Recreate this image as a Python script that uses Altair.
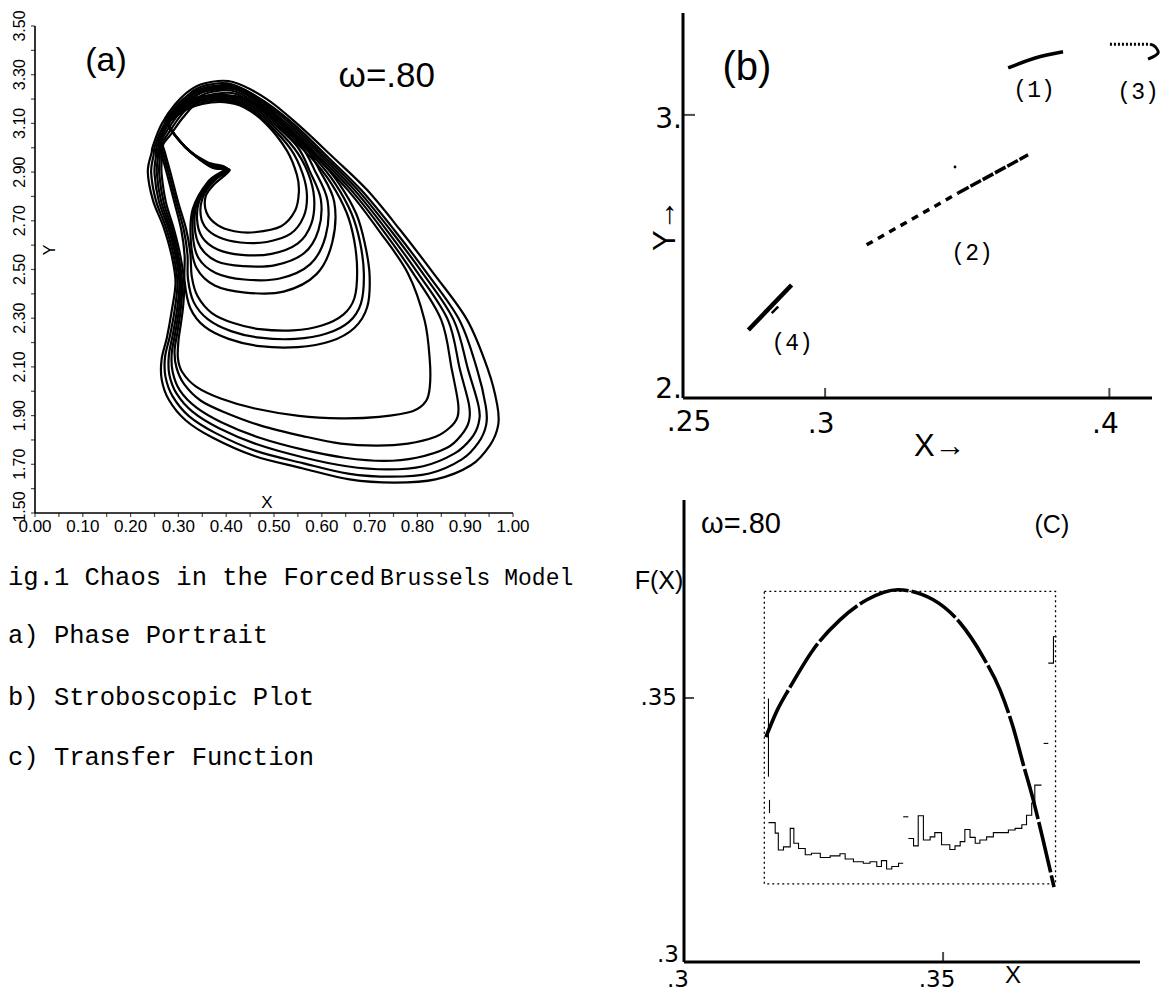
import altair as alt
import pandas as pd

# ---------------- Panel (a): phase portrait (X, Y), omega = .80 ----------------
O1_x = [0.247,0.265,0.294,0.330,0.365,0.414,0.485,0.554,0.623,0.695,0.764,0.833,0.904,0.948,0.967,0.969,0.952,0.912,0.838,0.752,0.658,0.559,0.459,0.371,0.315,0.280,0.265,0.265,0.276,0.286,0.294,0.286,0.269,0.247,0.236,0.244]
O1_y = [3.009,3.097,3.181,3.244,3.269,3.270,3.200,3.089,2.962,2.826,2.662,2.486,2.293,2.087,1.944,1.861,1.779,1.696,1.638,1.625,1.638,1.684,1.734,1.810,1.881,1.965,2.049,2.133,2.221,2.330,2.447,2.556,2.674,2.783,2.900,2.980]
O2_x = [0.251,0.269,0.297,0.332,0.367,0.413,0.480,0.546,0.614,0.683,0.752,0.820,0.888,0.925,0.943,0.944,0.928,0.893,0.825,0.745,0.655,0.560,0.462,0.378,0.322,0.288,0.273,0.272,0.282,0.292,0.298,0.290,0.274,0.253,0.243,0.248]
O2_y = [3.009,3.089,3.165,3.235,3.260,3.260,3.190,3.089,2.959,2.825,2.661,2.485,2.292,2.089,1.939,1.863,1.790,1.720,1.662,1.649,1.662,1.705,1.755,1.828,1.898,1.979,2.059,2.140,2.225,2.331,2.446,2.557,2.672,2.783,2.898,2.969]
O3_x = [0.255,0.273,0.300,0.335,0.370,0.415,0.478,0.541,0.608,0.676,0.744,0.811,0.876,0.906,0.928,0.928,0.912,0.878,0.812,0.738,0.652,0.562,0.466,0.385,0.330,0.296,0.281,0.280,0.288,0.297,0.302,0.294,0.279,0.259,0.250,0.253]
O3_y = [3.009,3.081,3.155,3.225,3.250,3.250,3.183,3.087,2.959,2.825,2.661,2.485,2.292,2.089,1.939,1.868,1.805,1.745,1.692,1.679,1.692,1.728,1.781,1.848,1.915,1.991,2.069,2.147,2.230,2.333,2.445,2.557,2.669,2.781,2.895,2.964]
O4_x = [0.259,0.277,0.303,0.338,0.372,0.417,0.476,0.536,0.602,0.669,0.736,0.801,0.864,0.889,0.908,0.908,0.893,0.862,0.798,0.730,0.648,0.563,0.470,0.392,0.338,0.303,0.288,0.286,0.293,0.301,0.305,0.297,0.283,0.264,0.255,0.257]
O4_y = [3.009,3.073,3.145,3.215,3.241,3.241,3.176,3.085,2.959,2.825,2.661,2.485,2.292,2.089,1.944,1.878,1.823,1.768,1.727,1.714,1.727,1.759,1.809,1.871,1.933,2.004,2.079,2.155,2.235,2.335,2.444,2.557,2.667,2.779,2.893,2.959]
O5_x = [0.263,0.281,0.306,0.340,0.374,0.419,0.474,0.531,0.596,0.662,0.728,0.791,0.850,0.872,0.885,0.884,0.868,0.838,0.780,0.715,0.640,0.560,0.474,0.400,0.347,0.312,0.296,0.292,0.298,0.305,0.308,0.300,0.287,0.269,0.260,0.261]
O5_y = [3.009,3.065,3.135,3.205,3.231,3.231,3.169,3.083,2.959,2.825,2.661,2.485,2.292,2.089,1.954,1.895,1.851,1.813,1.785,1.777,1.785,1.816,1.858,1.911,1.961,2.029,2.097,2.165,2.243,2.339,2.443,2.557,2.665,2.777,2.891,2.954]
O6_x = [0.267,0.285,0.310,0.343,0.377,0.421,0.471,0.526,0.590,0.655,0.719,0.780,0.815,0.826,0.826,0.818,0.790,0.720,0.640,0.552,0.460,0.390,0.337,0.308,0.299,0.300,0.305,0.310,0.312,0.304,0.291,0.274,0.265,0.265]
O6_y = [3.009,3.057,3.125,3.195,3.221,3.221,3.162,3.081,2.959,2.825,2.661,2.485,2.292,2.125,2.019,1.959,1.918,1.895,1.889,1.899,1.929,1.969,2.019,2.079,2.135,2.205,2.275,2.351,2.446,2.557,2.663,2.775,2.889,2.949]
M1_x = [0.265,0.280,0.305,0.340,0.380,0.425,0.475,0.520,0.578,0.620,0.652,0.668,0.674,0.668,0.645,0.600,0.540,0.470,0.415,0.370,0.340,0.328,0.325,0.316,0.300,0.284,0.272]
M1_y = [3.039,3.100,3.165,3.220,3.240,3.237,3.175,3.069,2.959,2.853,2.733,2.617,2.491,2.381,2.315,2.270,2.250,2.255,2.280,2.321,2.391,2.471,2.567,2.667,2.773,2.893,2.979]
M2_x = [0.262,0.277,0.302,0.338,0.378,0.423,0.477,0.525,0.584,0.628,0.662,0.680,0.688,0.682,0.657,0.610,0.545,0.470,0.410,0.362,0.332,0.320,0.319,0.311,0.296,0.280,0.268]
M2_y = [3.039,3.105,3.173,3.227,3.247,3.245,3.181,3.073,2.961,2.853,2.731,2.612,2.483,2.361,2.285,2.237,2.215,2.220,2.247,2.295,2.366,2.461,2.562,2.665,2.773,2.893,2.979]
M3_x = [0.259,0.274,0.299,0.336,0.376,0.421,0.479,0.530,0.590,0.636,0.672,0.690,0.700,0.695,0.668,0.618,0.550,0.470,0.405,0.355,0.325,0.313,0.313,0.306,0.292,0.276,0.264]
M3_y = [3.039,3.109,3.180,3.233,3.254,3.252,3.187,3.077,2.963,2.853,2.729,2.607,2.476,2.346,2.260,2.205,2.181,2.185,2.215,2.265,2.341,2.451,2.557,2.663,2.773,2.893,2.979]
I1_x = [0.290,0.315,0.350,0.396,0.438,0.484,0.527,0.548,0.552,0.544,0.515,0.459,0.417,0.382,0.359,0.357,0.375,0.407,0.371,0.330,0.296,0.278]
I1_y = [3.120,3.155,3.180,3.187,3.165,3.097,2.988,2.888,2.817,2.741,2.678,2.653,2.657,2.682,2.733,2.800,2.850,2.909,2.918,2.975,3.043,3.099]
I2_x = [0.288,0.313,0.349,0.396,0.440,0.488,0.535,0.560,0.569,0.562,0.535,0.485,0.430,0.385,0.355,0.346,0.355,0.380,0.407,0.369,0.327,0.294,0.280]
I2_y = [3.123,3.160,3.187,3.193,3.171,3.097,2.994,2.893,2.803,2.717,2.647,2.613,2.611,2.632,2.677,2.743,2.813,2.873,2.909,2.925,2.981,3.049,3.099]
I3_x = [0.286,0.311,0.347,0.396,0.442,0.492,0.542,0.571,0.584,0.578,0.550,0.495,0.432,0.382,0.350,0.339,0.346,0.375,0.405,0.367,0.325,0.292,0.278]
I3_y = [3.126,3.165,3.193,3.199,3.177,3.101,2.999,2.898,2.793,2.687,2.607,2.564,2.560,2.582,2.632,2.707,2.793,2.871,2.911,2.928,2.984,3.054,3.103]
I4_x = [0.284,0.309,0.345,0.396,0.444,0.496,0.549,0.575,0.598,0.593,0.563,0.503,0.435,0.380,0.346,0.334,0.340,0.370,0.403,0.365,0.323,0.290,0.276]
I4_y = [3.129,3.169,3.198,3.205,3.183,3.105,3.004,2.903,2.788,2.662,2.567,2.518,2.514,2.534,2.592,2.677,2.778,2.868,2.913,2.931,2.987,3.059,3.107]
I5_x = [0.282,0.307,0.343,0.396,0.446,0.500,0.556,0.585,0.612,0.608,0.576,0.512,0.438,0.378,0.342,0.330,0.335,0.366,0.401,0.363,0.321,0.288,0.274]
I5_y = [3.132,3.173,3.203,3.211,3.189,3.109,3.009,2.908,2.783,2.637,2.522,2.463,2.459,2.486,2.547,2.647,2.763,2.865,2.915,2.934,2.990,3.064,3.111]
I6_x = [0.280,0.305,0.341,0.396,0.448,0.504,0.562,0.595,0.626,0.622,0.589,0.520,0.440,0.376,0.338,0.326,0.330,0.362,0.399,0.361,0.319,0.286,0.272]
I6_y = [3.135,3.177,3.208,3.217,3.195,3.113,3.013,2.909,2.778,2.612,2.481,2.409,2.405,2.434,2.506,2.617,2.748,2.861,2.917,2.941,2.993,3.069,3.115]

xa_ticks = [0.0,0.05,0.1,0.15,0.2,0.25,0.3,0.35,0.4,0.45,0.5,0.55,0.6,0.65,0.7,0.75,0.8,0.85,0.9,0.95,1.0]
ya_ticks = [1.5,1.6,1.7,1.8,1.9,2.0,2.1,2.2,2.3,2.4,2.5,2.6,2.7,2.8,2.9,3.0,3.1,3.2,3.3,3.4,3.5]
xa_label_vals = [0.0,0.1,0.2,0.3,0.4,0.5,0.6,0.7,0.8,0.9,1.0]
xa_labels = ["0.00","0.10","0.20","0.30","0.40","0.50","0.60","0.70","0.80","0.90","1.00"]
ya_label_vals = [1.5,1.7,1.9,2.1,2.3,2.5,2.7,2.9,3.1,3.3,3.5]
ya_labels = ["1.50","1.70","1.90","2.10","2.30","2.50","2.70","2.90","3.10","3.30","3.50"]

# ---------------- Panel (b): stroboscopic plot ----------------
b1_x = [0.3644,0.3739,0.3837]
b1_y = [3.166,3.201,3.223]
b2a_x = [0.3146,0.3468]
b2a_y = [2.541,2.724]
b2b_x = [0.3468,0.3714]
b2b_y = [2.724,2.859]
b3a_x = [0.4002,0.4143]
b3a_y = [3.250,3.250]
b3b_x = [0.4143,0.4161,0.4171,0.4136]
b3b_y = [3.250,3.241,3.218,3.197]
b4_x = [0.2882,0.2730]
b4_y = [2.399,2.240]
b4b_x = [0.2835,0.2812]
b4b_y = [2.323,2.300]
b_stray_x = [0.3457]
b_stray_y = [2.816]
xb_ticks = [0.25,0.3,0.4]
xb_labels = [".25",".3",".4"]
yb_ticks = [2.0,3.0]
yb_labels = ["2.","3."]

# ---------------- Panel (c): transfer function ----------------
fx_x = [0.3158,0.3180,0.3205,0.3249,0.3301,0.3353,0.3413,0.3481,0.3533,0.3577,0.3610,0.3635,0.3654,0.3674,0.3693,0.3714]
fx_y = [0.3426,0.3477,0.3521,0.3591,0.3648,0.3686,0.3705,0.3686,0.3642,0.3578,0.3515,0.3445,0.3377,0.3307,0.3231,0.3142]
box_x = [0.3155,0.3717]
box_y = [0.3148,0.3702]
hl_x = [0.3163,0.3176,0.3182,0.3192,0.3205,0.3212,0.3221,0.3234,0.3246,0.3263,0.3282,0.3301,0.3311,0.3327,0.3346,0.3359,0.3372,0.3381,0.3391,0.3401,0.3414,0.3423]
hl_y = [0.3264,0.3244,0.3212,0.3218,0.3253,0.3225,0.3215,0.3203,0.3206,0.3198,0.3201,0.3205,0.3195,0.3190,0.3187,0.3190,0.3181,0.3192,0.3176,0.3181,0.3187,0.3187]
hr_x = [0.3433,0.3443,0.3452,0.3462,0.3475,0.3484,0.3497,0.3513,0.3523,0.3533,0.3542,0.3552,0.3562,0.3571,0.3584,0.3597,0.3610,0.3626,0.3639,0.3652,0.3661,0.3671,0.3677,0.3690]
hr_y = [0.3234,0.3220,0.3277,0.3231,0.3237,0.3245,0.3222,0.3213,0.3220,0.3228,0.3251,0.3236,0.3225,0.3231,0.3237,0.3245,0.3245,0.3250,0.3253,0.3260,0.3278,0.3301,0.3335,0.3335]
ht_x = [0.3703,0.3713,0.3719]
ht_y = [0.3566,0.3616,0.3616]
hd1_x = [0.3423,0.3433]
hd1_y = [0.3275,0.3275]
hd2_x = [0.3694,0.3703]
hd2_y = [0.3414,0.3414]
spike_x = [0.3163,0.3165]
spike_y1 = [0.3351,0.3282]
spike_y2 = [0.3499,0.3307]
xc_ticks = [0.3,0.35]
xc_labels = [".3",".35"]
yc_ticks = [0.3,0.35]
yc_labels = [".3",".35"]

captions = ["ig.1 Chaos in the Forced", "a) Phase Portrait", "b) Stroboscopic Plot", "c) Transfer Function"]
caption_tail = "Brussels Model"

# ---------------- helpers ----------------
def path(xs, ys, name="p"):
    return pd.DataFrame({"x": xs, "y": ys, "i": list(range(len(xs))), "piece": name})

def enc(sx, sy):
    return dict(x=alt.X("x:Q", scale=sx, axis=None), y=alt.Y("y:Q", scale=sy, axis=None))

def note(text, x, y, sx, sy, **kw):
    d = pd.DataFrame({"x": [x], "y": [y], "t": [text]})
    return alt.Chart(d).mark_text(color="black", **kw).encode(text="t:N", **enc(sx, sy))

def texts(xs, ys, labels, sx, sy, **kw):
    d = pd.DataFrame({"x": xs, "y": ys, "t": labels})
    return alt.Chart(d).mark_text(color="black", **kw).encode(text="t:N", **enc(sx, sy))

def hline(x0, x1, y, sx, sy, w):
    d = pd.DataFrame({"x": [x0], "x2": [x1], "y": [y]})
    return alt.Chart(d).mark_rule(color="black", strokeWidth=w).encode(
        x=alt.X("x:Q", scale=sx, axis=None), x2="x2:Q", y=alt.Y("y:Q", scale=sy, axis=None))

def vline(x, y0, y1, sx, sy, w):
    d = pd.DataFrame({"x": [x], "y": [y0], "y2": [y1]})
    return alt.Chart(d).mark_rule(color="black", strokeWidth=w).encode(
        x=alt.X("x:Q", scale=sx, axis=None), y=alt.Y("y:Q", scale=sy, axis=None), y2="y2:Q")

def ticks(xs, ys, sx, sy, **kw):
    d = pd.DataFrame({"x": xs, "y": ys})
    return alt.Chart(d).mark_tick(color="black", **kw).encode(**enc(sx, sy))

# ---------------- panel (a) ----------------
xa = alt.Scale(domain=[0.0, 1.0], range=[27, 505], nice=False, zero=False)
ya = alt.Scale(domain=[1.5, 3.5], range=[505, 18], nice=False, zero=False)

loops = [("O1", O1_x, O1_y), ("O2", O2_x, O2_y), ("O3", O3_x, O3_y), ("O4", O4_x, O4_y),
         ("O5", O5_x, O5_y), ("O6", O6_x, O6_y), ("M1", M1_x, M1_y), ("M2", M2_x, M2_y),
         ("M3", M3_x, M3_y), ("I1", I1_x, I1_y), ("I2", I2_x, I2_y), ("I3", I3_x, I3_y),
         ("I4", I4_x, I4_y), ("I5", I5_x, I5_y), ("I6", I6_x, I6_y)]
df_a = pd.concat([path(xs, ys, n) for n, xs, ys in loops], ignore_index=True)

lines_a = alt.Chart(df_a).mark_line(interpolate="cardinal-closed", strokeWidth=2.2, color="black").encode(
    detail="piece:N", order="i:Q", **enc(xa, ya))

panel_a = alt.layer(
    hline(xa_ticks[0], xa_ticks[-1], ya_ticks[0], xa, ya, 1.6),
    vline(xa_ticks[0], ya_ticks[0], ya_ticks[-1], xa, ya, 1.6),
    ticks(xa_ticks, [ya_ticks[0]] * len(xa_ticks), xa, ya, orient="vertical", size=4, thickness=1.2, yOffset=2),
    ticks([xa_ticks[0]] * len(ya_ticks), ya_ticks, xa, ya, orient="horizontal", size=4, thickness=1.2, xOffset=-2),
    texts(xa_label_vals, [ya_ticks[0]] * len(xa_label_vals), xa_labels, xa, ya,
          font="Liberation Sans", fontSize=17, align="center", baseline="middle", yOffset=14),
    texts([xa_ticks[0]] * len(ya_label_vals[1:]), ya_label_vals[1:], ya_labels[1:], xa, ya,
          font="Liberation Sans", fontSize=16, align="center", baseline="middle", angle=270, xOffset=-15),
    texts([xa_ticks[0]], ya_label_vals[:1], ya_labels[:1], xa, ya,
          font="Liberation Sans", fontSize=16, align="center", baseline="middle", angle=270, xOffset=-15, yOffset=-6),
    lines_a,
    note("X", 0.485, 1.541, xa, ya, font="Liberation Sans", fontSize=17, align="center", baseline="middle"),
    note("Y", 0.031, 2.580, xa, ya, font="Liberation Sans", fontSize=16, align="center", baseline="middle", angle=270),
    note("(a)", 0.1485, 3.356, xa, ya, font="Liberation Sans", fontSize=34, align="center", baseline="middle"),
    note("ω=.80", 0.736, 3.295, xa, ya, font="Liberation Sans", fontSize=35, align="center", baseline="middle"),
)

# ---------------- panel (b) ----------------
xb = alt.Scale(domain=[0.25, 0.415], range=[675, 1144], nice=False, zero=False)
yb = alt.Scale(domain=[2.0, 3.36], range=[390, 5], nice=False, zero=False)

def bline(xs, ys, **kw):
    return alt.Chart(path(xs, ys)).mark_line(color="black", **kw).encode(order="i:Q", **enc(xb, yb))

panel_b = alt.layer(
    hline(xb_ticks[0], 0.415, yb_ticks[0], xb, yb, 3),
    vline(xb_ticks[0], yb_ticks[0], 3.36, xb, yb, 3),
    ticks(xb_ticks[1:], [yb_ticks[0]] * 2, xb, yb, orient="vertical", size=10, thickness=2, yOffset=-5),
    ticks([xb_ticks[0]], [yb_ticks[1]], xb, yb, orient="horizontal", size=12, thickness=2, xOffset=6),
    texts(xb_ticks[:1], [yb_ticks[0]], xb_labels[:1], xb, yb,
          font="DejaVu Sans", fontSize=28, align="center", baseline="middle", yOffset=25, xOffset=6),
    texts(xb_ticks[1:], [yb_ticks[0]] * 2, xb_labels[1:], xb, yb,
          font="DejaVu Sans", fontSize=28, align="center", baseline="middle", yOffset=27, xOffset=-4),
    texts([xb_ticks[0]], yb_ticks[:1], yb_labels[:1], xb, yb,
          font="DejaVu Sans", fontSize=28, align="right", baseline="middle", xOffset=-1, yOffset=-8),
    texts([xb_ticks[0]], yb_ticks[1:], yb_labels[1:], xb, yb,
          font="DejaVu Sans", fontSize=28, align="right", baseline="middle", xOffset=-1, yOffset=5),
    note("X→", 0.3404, 1.827, xb, yb, font="Liberation Sans", fontSize=31, align="center", baseline="middle"),
    note("Y→", 0.2440, 2.611, xb, yb, font="Liberation Sans", fontSize=31, align="center", baseline="middle", angle=270),
    bline(b2a_x, b2a_y, strokeWidth=3.5, strokeDash=[7, 6]),
    bline(b2b_x, b2b_y, strokeWidth=3.5, strokeDash=[12, 2]),
    bline(b1_x, b1_y, strokeWidth=3.5, interpolate="monotone"),
    bline(b3a_x, b3a_y, strokeWidth=3, strokeDash=[2, 2]),
    bline(b3b_x, b3b_y, strokeWidth=3, interpolate="cardinal"),
    bline(b4_x, b4_y, strokeWidth=4.5),
    bline(b4b_x, b4b_y, strokeWidth=2.5),
    alt.Chart(pd.DataFrame({"x": b_stray_x, "y": b_stray_y})).mark_circle(size=8, color="black", opacity=1).encode(**enc(xb, yb)),
    note("(b)", 0.2725, 3.166, xb, yb, font="Liberation Sans", fontSize=40, align="center", baseline="middle"),
    note("(1)", 0.3735, 3.088, xb, yb, font="Liberation Mono", fontSize=23, align="center", baseline="middle"),
    note("(3)", 0.4101, 3.081, xb, yb, font="Liberation Mono", fontSize=23, align="center", baseline="middle"),
    note("(2)", 0.3517, 2.512, xb, yb, font="Liberation Mono", fontSize=23, align="center", baseline="middle"),
    note("(4)", 0.2884, 2.194, xb, yb, font="Liberation Mono", fontSize=23, align="center", baseline="middle"),
)

# ---------------- panel (c) ----------------
xc = alt.Scale(domain=[0.3, 0.388], range=[676, 1132], nice=False, zero=False)
yc = alt.Scale(domain=[0.3, 0.3875], range=[954, 492], nice=False, zero=False)

c_curve = alt.Chart(path(fx_x, fx_y)).mark_line(color="black", strokeWidth=3.6, interpolate="monotone",
                                                strokeDash=[52, 3]).encode(order="i:Q", **enc(xc, yc))

c_box = alt.Chart(pd.DataFrame({"x": [box_x[0]], "x2": [box_x[1]], "y": [box_y[0]], "y2": [box_y[1]]})).mark_rect(
    fill="transparent", stroke="black", strokeWidth=1.3, strokeDash=[2, 3]).encode(
    x=alt.X("x:Q", scale=xc, axis=None), x2="x2:Q", y=alt.Y("y:Q", scale=yc, axis=None), y2="y2:Q")

hist = pd.concat([path(hl_x, hl_y, "left"), path(hr_x, hr_y, "right"), path(ht_x, ht_y, "top"),
                  path(hd1_x, hd1_y, "d1"), path(hd2_x, hd2_y, "d2")], ignore_index=True)
c_hist = alt.Chart(hist).mark_line(color="black", strokeWidth=1.1, interpolate="step-after").encode(
    detail="piece:N", order="i:Q", **enc(xc, yc))

c_spikes = alt.Chart(pd.DataFrame({"x": spike_x, "y": spike_y1, "y2": spike_y2})).mark_rule(
    color="black", strokeWidth=1.1).encode(x=alt.X("x:Q", scale=xc, axis=None),
                                           y=alt.Y("y:Q", scale=yc, axis=None), y2="y2:Q")

panel_c = alt.layer(
    hline(xc_ticks[0], 0.388, yc_ticks[0], xc, yc, 3),
    vline(xc_ticks[0], yc_ticks[0], 0.3875, xc, yc, 3),
    ticks([xc_ticks[1]], [yc_ticks[0]], xc, yc, orient="vertical", size=10, thickness=2, yOffset=-5),
    ticks([xc_ticks[0]], [yc_ticks[1]], xc, yc, orient="horizontal", size=10, thickness=2, xOffset=5),
    texts(xc_ticks, [yc_ticks[0]] * 2, xc_labels, xc, yc,
          font="DejaVu Sans", fontSize=23, align="center", baseline="middle", yOffset=18, xOffset=-6),
    texts([xc_ticks[0]], yc_ticks[:1], yc_labels[:1], xc, yc,
          font="DejaVu Sans", fontSize=23, align="right", baseline="middle", xOffset=-5, yOffset=-7),
    texts([xc_ticks[0]], yc_ticks[1:], yc_labels[1:], xc, yc,
          font="DejaVu Sans", fontSize=23, align="right", baseline="middle", xOffset=-7),
    note("X", 0.3635, 0.29735, xc, yc, font="Liberation Sans", fontSize=24, align="center", baseline="middle"),
    note("F(X)", 0.29517, 0.37216, xc, yc, font="Liberation Sans", fontSize=25, align="center", baseline="middle"),
    c_curve, c_box, c_hist, c_spikes,
    note("ω=.80", 0.3110, 0.3830, xc, yc, font="Liberation Sans", fontSize=29, align="center", baseline="middle"),
    note("(C)", 0.3710, 0.3828, xc, yc, font="Liberation Sans", fontSize=25, align="center", baseline="middle"),
)

# ---------------- caption ----------------
cap_base = [577, 635, 697, 757]
cap_layers = []
for line, yy in zip(captions, cap_base):
    cap_layers.append(alt.Chart(pd.DataFrame({"t": [line]})).mark_text(
        font="Liberation Mono", fontSize=25.5, align="left", baseline="alphabetic", color="black").encode(
        x=alt.value(0), y=alt.value(yy), text="t:N"))
cap_layers.append(alt.Chart(pd.DataFrame({"t": [caption_tail]})).mark_text(
    font="Liberation Mono", fontSize=23, align="left", baseline="alphabetic", color="black").encode(
    x=alt.value(372), y=alt.value(cap_base[0]), text="t:N"))
caption = alt.layer(*cap_layers)

chart = alt.layer(panel_a, panel_b, panel_c, caption).resolve_scale(
    x="independent", y="independent"
).properties(
    width=1156, height=983, padding=0, background="white",
    autosize=alt.AutoSizeParams(type="none")
).configure_view(stroke="transparent")

chart.save("out.html", embed_options={"renderer": "svg", "actions": False})
